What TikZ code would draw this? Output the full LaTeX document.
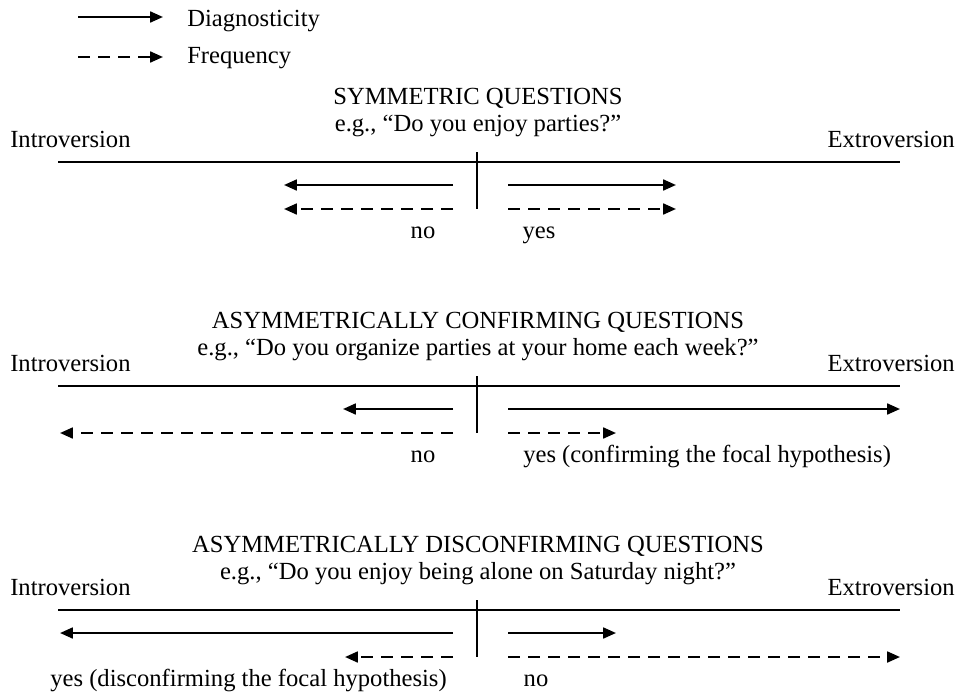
\documentclass[tikz,border=0pt]{standalone}
\usepackage{fontspec}
\setmainfont{Liberation Serif}
\usetikzlibrary{
    arrows.meta,
    positioning
}
\tikzset{
    diag/.style={line width=1.6pt,-{Triangle[length=0.32cm,width=0.27cm]}},
    freq/.style={diag,dash pattern=on 0.3cm off 0.2cm},
    axisline/.style={line width=1.2pt},
    txt/.style={inner sep=0pt,anchor=base,font=\fontsize{17.5}{21}\selectfont}
}

\begin{document}
\begin{tikzpicture}[x=0.025cm,y=-0.025cm]
    \useasboundingbox (0,0) rectangle (959,692);
    % legend
    \coordinate (legA) at (78,17);   \coordinate (legB) at (163,17);
    \coordinate (legC) at (78,57);   \coordinate (legD) at (163,57);
    \draw[diag] (legA) -- (legB);
    \draw[freq] (legC) -- (legD);
    \node[txt,anchor=base west] (diagtxt) at (187,26) {Diagnosticity};
    \node[txt,anchor=base west] (freqtxt) at (187,63) {Frequency};

    % symmetric
    \node[txt] (title1) at (478,104) {SYMMETRIC QUESTIONS};
    \node[txt] (eg1) at (478,131) {e.g., ``Do you enjoy parties?''};
    \node[txt,anchor=base west] (intro1) at (10,147) {Introversion};
    \node[txt,anchor=base east] (extro1) at (955,147) {Extroversion};
    \coordinate (axL1) at (58,162);  \coordinate (axR1) at (900,162);
    \coordinate (tkT1) at (477,152); \coordinate (tkB1) at (477,209);
    \draw[axisline] (axL1) -- (axR1);
    \draw[axisline] (tkT1) -- (tkB1);
    \coordinate (sL1) at (453,185); \coordinate (sLe1) at (284,185);
    \coordinate (sR1) at (508,185); \coordinate (sRe1) at (676,185);
    \coordinate (dL1) at (453,209); \coordinate (dLe1) at (284,209);
    \coordinate (dR1) at (508,209); \coordinate (dRe1) at (676,209);
    \draw[diag] (sL1) -- (sLe1);
    \draw[diag] (sR1) -- (sRe1);
    \draw[freq] (dL1) -- (dLe1);
    \draw[freq] (dR1) -- (dRe1);
    \node[txt] (no1) at (423,238) {no};
    \node[txt] (yes1) at (539,238) {yes};

    % asymmetrically confirming
    \node[txt] (title2) at (478,328) {ASYMMETRICALLY CONFIRMING QUESTIONS};
    \node[txt] (eg2) at (478,355) {e.g., ``Do you organize parties at your home each week?''};
    \node[txt,anchor=base west] (intro2) at (10,371) {Introversion};
    \node[txt,anchor=base east] (extro2) at (955,371) {Extroversion};
    \coordinate (axL2) at (58,386);  \coordinate (axR2) at (900,386);
    \coordinate (tkT2) at (477,376); \coordinate (tkB2) at (477,433);
    \draw[axisline] (axL2) -- (axR2);
    \draw[axisline] (tkT2) -- (tkB2);
    \coordinate (sL2) at (453,409); \coordinate (sLe2) at (343,409);
    \coordinate (sR2) at (508,409); \coordinate (sRe2) at (900,409);
    \coordinate (dL2) at (453,433); \coordinate (dLe2) at (60,433);
    \coordinate (dR2) at (508,433); \coordinate (dRe2) at (616,433);
    \draw[diag] (sL2) -- (sLe2);
    \draw[diag] (sR2) -- (sRe2);
    \draw[freq] (dL2) -- (dLe2);
    \draw[freq] (dR2) -- (dRe2);
    \node[txt] (no2) at (423,462) {no};
    \node[txt,anchor=base west] (yes2) at (523,462) {yes (confirming the focal hypothesis)};

    % asymmetrically disconfirming
    \node[txt] (title3) at (478,552) {ASYMMETRICALLY DISCONFIRMING QUESTIONS};
    \node[txt] (eg3) at (478,579) {e.g., ``Do you enjoy being alone on Saturday night?''};
    \node[txt,anchor=base west] (intro3) at (10,595) {Introversion};
    \node[txt,anchor=base east] (extro3) at (955,595) {Extroversion};
    \coordinate (axL3) at (58,610);  \coordinate (axR3) at (900,610);
    \coordinate (tkT3) at (477,600); \coordinate (tkB3) at (477,657);
    \draw[axisline] (axL3) -- (axR3);
    \draw[axisline] (tkT3) -- (tkB3);
    \coordinate (sL3) at (453,633); \coordinate (sLe3) at (60,633);
    \coordinate (sR3) at (508,633); \coordinate (sRe3) at (616,633);
    \coordinate (dL3) at (453,657); \coordinate (dLe3) at (345,657);
    \coordinate (dR3) at (508,657); \coordinate (dRe3) at (900,657);
    \draw[diag] (sL3) -- (sLe3);
    \draw[diag] (sR3) -- (sRe3);
    \draw[freq] (dL3) -- (dLe3);
    \draw[freq] (dR3) -- (dRe3);
    \node[txt,anchor=base east] (yes3) at (447,686) {yes (disconfirming the focal hypothesis)};
    \node[txt] (no3) at (536,686) {no};
\end{tikzpicture}
\end{document}
